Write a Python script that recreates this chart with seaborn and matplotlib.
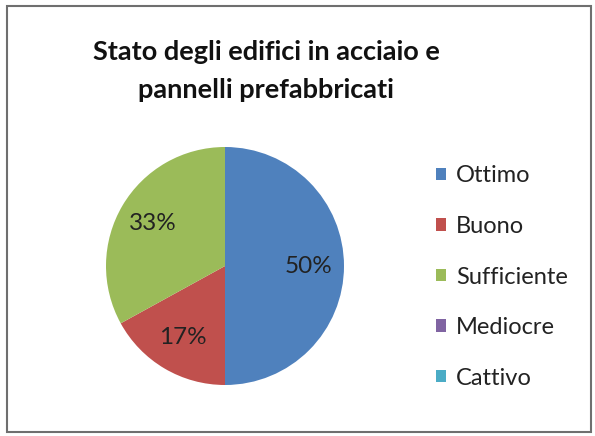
import matplotlib
matplotlib.use("Agg")
import matplotlib.pyplot as plt
from matplotlib.patches import Rectangle
import seaborn as sns

categories = ["Ottimo", "Buono", "Sufficiente", "Mediocre", "Cattivo"]
values = [50, 17, 33, 0, 0]
colors = ["#4F81BD", "#C0504D", "#9BBB59", "#8064A2", "#4BACC6"]
title = "Stato degli edifici in acciaio e\npannelli prefabbricati"

sns.set_theme(style="white")
plt.rcParams['font.family'] = ['Lato', 'DejaVu Sans']

fig = plt.figure(figsize=(5.95, 4.36), dpi=100)
fig.patch.set_facecolor("white")

# pie axes: center (225, 266), radius ~119 px
r = 119
cx, cy = 225, 266
W, H = 595, 436
ax = fig.add_axes([(cx - r) / W, 1 - (cy + r) / H, 2 * r / W, 2 * r / H])

def fmt(p):
    return f"{p:.0f}%" if p > 0.5 else ""

wedges, texts, autotexts = ax.pie(
    values, colors=sns.color_palette(colors), startangle=90, counterclock=False,
    autopct=fmt, pctdistance=0.7, radius=1.0,
    textprops=dict(fontsize=17.5, color="#222222"),
    wedgeprops=dict(linewidth=0))
ax.set_xlim(-1, 1)
ax.set_ylim(-1, 1)
ax.set_aspect("equal")
ax.axis("off")

fig.text(266 / W, 1 - 71 / H, title, ha="center", va="center",
         fontsize=19.5, fontweight="bold", color="#111111", linespacing=1.72)

leg = fig.legend(wedges, categories, loc="center left",
                 bbox_to_anchor=(424 / W, 1 - 277 / H), frameon=False,
                 fontsize=17, handlelength=0.45, handleheight=0.45,
                 handletextpad=0.42, labelspacing=1.25, borderpad=0)
for t in leg.get_texts():
    t.set_color("#222222")

fig.add_artist(Rectangle((7 / W, 4 / H), (591 - 7) / W, (430 - 4) / H,
                         transform=fig.transFigure, fill=False,
                         edgecolor="#6f6f6f", linewidth=1.5))

fig.savefig("out.png", dpi=100)
